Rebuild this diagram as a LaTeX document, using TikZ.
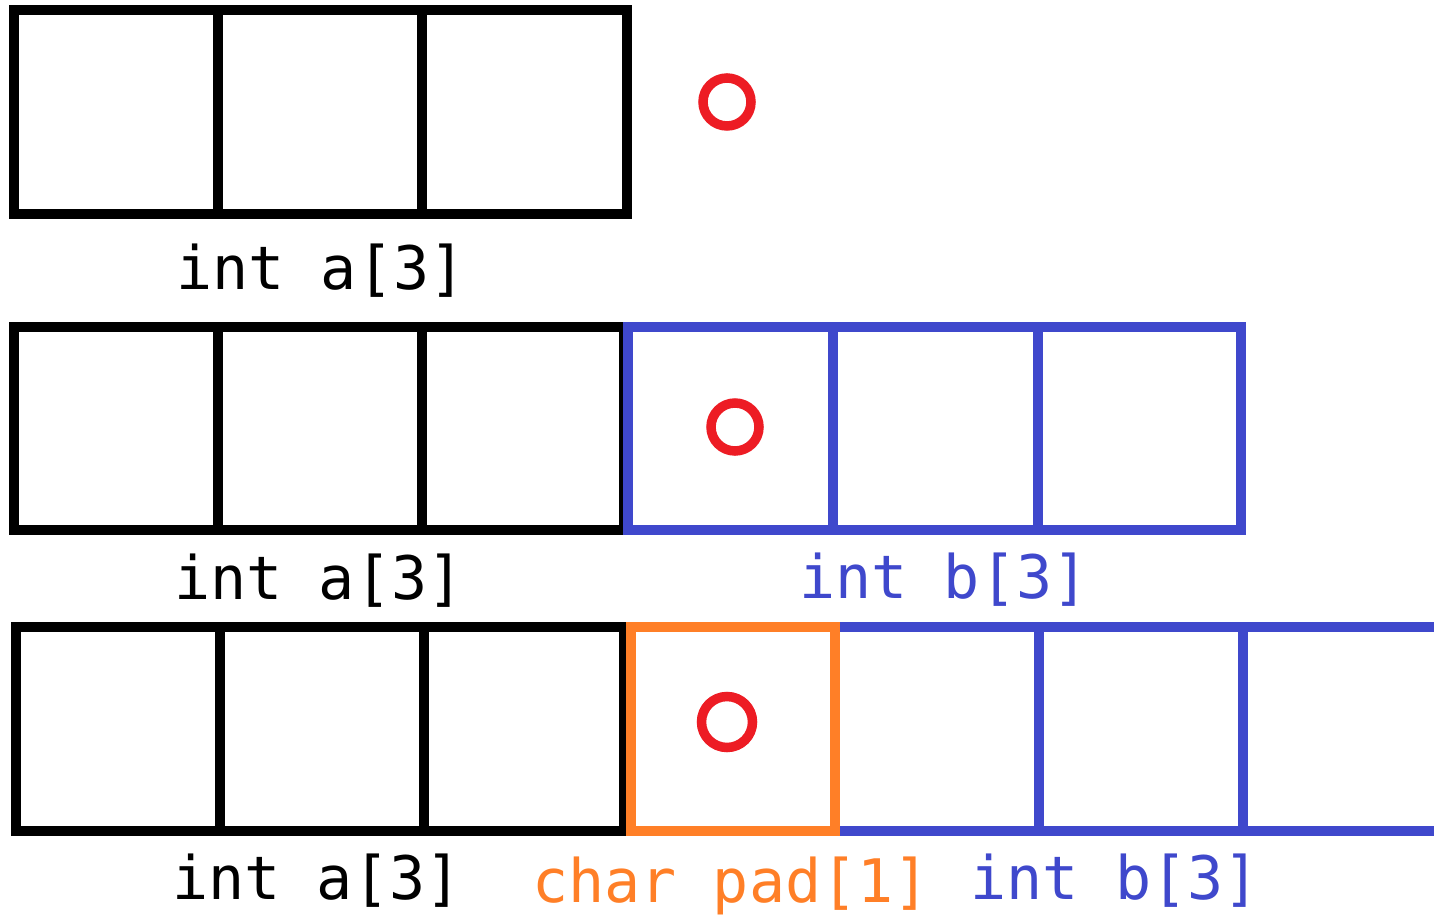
\documentclass[tikz,border=0pt]{standalone}
\usepackage{fontspec}
\newfontfamily\codefont{DejaVu Sans Mono}
\definecolor{pblue}{HTML}{3F48CC}
\definecolor{porange}{HTML}{FF7F27}
\definecolor{pred}{HTML}{ED1C24}
\begin{document}
\begin{tikzpicture}[x=1pt,y=-1pt,
  blk/.style={draw=black,line width=10pt},
  blu/.style={draw=pblue,line width=10pt},
  org/.style={draw=porange,line width=10pt},
  ring/.style={draw=pred,line width=9.5pt},
  lbl/.style={anchor=base,inner sep=0pt,font=\codefont\fontsize{60}{62}\selectfont}]
\useasboundingbox[fill=white] (0,0) rectangle (1434,917);
% Row 1
\draw[blk] (14,10) rectangle (627,214);
\draw[blk] (218,10) -- (218,214);
\draw[blk] (422,10) -- (422,214);
\draw[ring] (727,102) circle (24);
\node[lbl] (a1) at (321,289) {int a[3]};
% Row 2
\draw[blk] (14,327) rectangle (624,530);
\draw[blk] (218,327) -- (218,530);
\draw[blk] (422,327) -- (422,530);
\draw[blu] (628,327) rectangle (1241,530);
\draw[blu] (833,327) -- (833,530);
\draw[blu] (1038,327) -- (1038,530);
\draw[ring] (735,427) circle (24);
\node[lbl] (a2) at (319,599) {int a[3]};
\node[lbl,text=pblue] (b2) at (944,598) {int b[3]};
% Row 3
\draw[blk] (16,627) rectangle (624,831);
\draw[blk] (220,627) -- (220,831);
\draw[blk] (424,627) -- (424,831);
\draw[blu] (835,627) -- (1445,627);
\draw[blu] (835,831) -- (1445,831);
\draw[blu] (1039,627) -- (1039,831);
\draw[blu] (1243,627) -- (1243,831);
\draw[org] (631,627) rectangle (835,831);
\draw[ring] (727,722) circle (25.5);
\node[lbl] (a3) at (317,899) {int a[3]};
\node[lbl,text=porange] (pad) at (731,902) {char pad[1]};
\node[lbl,text=pblue] (b3) at (1115,899) {int b[3]};
\end{tikzpicture}
\end{document}
